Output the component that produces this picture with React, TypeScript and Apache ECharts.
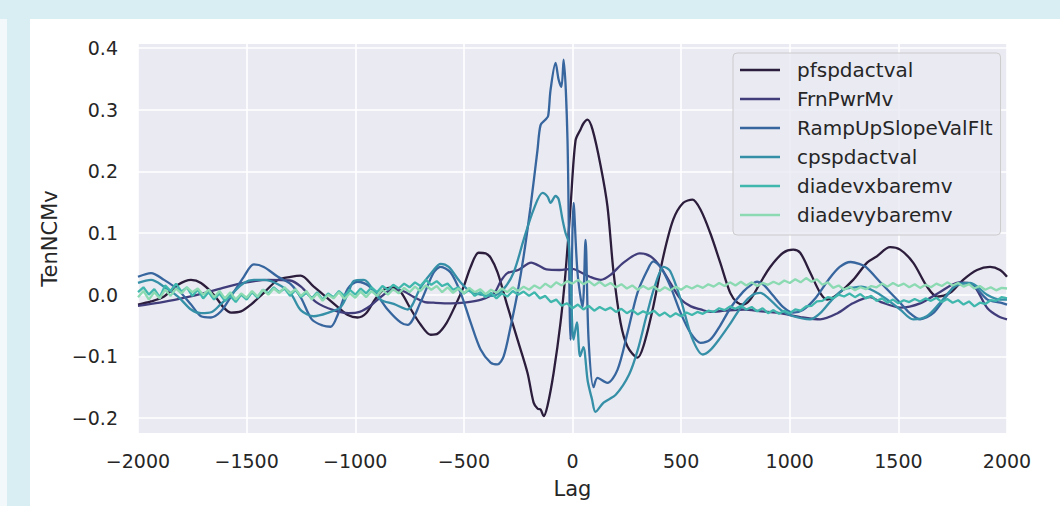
import React, { useEffect, useRef } from "react";
import * as echarts from "echarts";

const seriesNames = ["pfspdactval", "FrnPwrMv", "RampUpSlopeValFlt", "cpspdactval", "diadevxbaremv", "diadevybaremv"];
const seriesColors = ["#2b1d3b", "#413d7b", "#37659e", "#348fa7", "#40b7ad", "#8bdab2"];
const yTickValues = [-0.2, -0.1, 0.0, 0.1, 0.2, 0.3, 0.4];

const pfLag = [-2000, -1940, -1880, -1816, -1756, -1710, -1651, -1605, -1572, -1526, -1480, -1421, -1356, -1297, -1251, -1191, -1130, -1080, -1034, -990, -950, -910, -870, -830, -790, -750, -700, -653, -620, -580, -540, -501, -469, -432, -400, -377, -345, -299, -253, -207, -179, -160, -147, -133, -115, -87, -55, -32, -9, 14, 37, 51, 69, 92, 129, 161, 189, 221, 253, 299, 326, 372, 418, 464, 510, 552, 589, 634, 680, 726, 759, 786, 818, 864, 910, 970, 1016, 1048, 1094, 1140, 1172, 1218, 1292, 1356, 1400, 1462, 1508, 1568, 1632, 1678, 1738, 1798, 1862, 1922, 1968, 2000];
const pfVal = [-0.016, -0.011, -0.003, 0.016, 0.024, 0.019, 0.0, -0.021, -0.029, -0.027, -0.016, 0.003, 0.024, 0.029, 0.031, 0.013, -0.005, -0.02, -0.033, -0.037, -0.03, -0.008, 0.008, 0.012, 0.004, -0.02, -0.048, -0.065, -0.063, -0.046, -0.018, 0.013, 0.045, 0.068, 0.067, 0.06, 0.036, -0.019, -0.073, -0.127, -0.175, -0.185, -0.186, -0.197, -0.18, -0.127, -0.045, 0.036, 0.143, 0.25, 0.268, 0.278, 0.284, 0.268, 0.21, 0.143, 0.036, -0.045, -0.084, -0.102, -0.084, -0.019, 0.062, 0.122, 0.149, 0.154, 0.138, 0.1, 0.052, 0.003, -0.013, -0.016, -0.008, 0.019, 0.045, 0.068, 0.073, 0.068, 0.036, 0.003, -0.008, 0.0, 0.024, 0.052, 0.062, 0.077, 0.073, 0.052, 0.013, -0.003, 0.003, 0.024, 0.04, 0.045, 0.04, 0.029];

const frnLag = [-2000, -1900, -1800, -1700, -1600, -1500, -1400, -1300, -1250, -1180, -1100, -1030, -980, -930, -880, -830, -780, -730, -680, -640, -560, -500, -420, -360, -330, -300, -250, -190, -160, -120, -60, 0, 40, 80, 130, 175, 235, 310, 360, 405, 450, 500, 545, 590, 635, 700, 790, 870, 940, 1000, 1060, 1140, 1220, 1290, 1370, 1420, 1510, 1600, 1690, 1780, 1840, 1910, 1960, 2000];
const frnVal = [-0.018, -0.013, -0.006, 0.002, 0.012, 0.02, 0.024, 0.023, 0.013, -0.012, -0.025, -0.03, -0.028, -0.018, -0.003, 0.008, 0.006, -0.004, -0.012, -0.013, -0.014, -0.013, -0.008, 0.003, 0.022, 0.035, 0.04, 0.052, 0.048, 0.041, 0.04, 0.042, 0.036, 0.029, 0.024, 0.032, 0.052, 0.067, 0.062, 0.045, 0.019, -0.008, -0.019, -0.024, -0.028, -0.026, -0.024, -0.027, -0.029, -0.033, -0.037, -0.04, -0.03, -0.014, -0.004, -0.012, -0.021, -0.014, 0.004, 0.02, 0.017, -0.022, -0.035, -0.04];

const rampLag = [-2000, -1940, -1880, -1816, -1756, -1710, -1664, -1618, -1572, -1513, -1467, -1421, -1356, -1297, -1250, -1200, -1150, -1113, -1080, -1034, -989, -940, -900, -851, -791, -759, -699, -639, -607, -561, -515, -469, -423, -377, -345, -317, -285, -253, -225, -193, -161, -147, -124, -112, -101, -78, -64, -51, -41, -23, -9, 5, 23, 46, 60, 74, 97, 115, 160, 207, 253, 299, 345, 372, 405, 451, 497, 543, 589, 634, 680, 730, 786, 830, 850, 880, 920, 970, 1016, 1060, 1120, 1180, 1230, 1280, 1320, 1350, 1420, 1508, 1550, 1600, 1660, 1720, 1780, 1840, 1910, 1970, 2000];
const rampVal = [0.029, 0.035, 0.024, 0.008, -0.016, -0.035, -0.037, -0.027, -0.003, 0.029, 0.049, 0.045, 0.029, 0.017, -0.005, -0.04, -0.05, -0.052, -0.032, 0.01, 0.021, 0.015, 0.0, -0.024, -0.045, -0.049, -0.012, 0.036, 0.045, 0.036, 0.003, -0.045, -0.089, -0.11, -0.113, -0.1, -0.052, 0.003, 0.062, 0.143, 0.235, 0.275, 0.284, 0.29, 0.332, 0.376, 0.349, 0.337, 0.381, 0.25, -0.073, 0.149, 0.036, -0.02, 0.089, -0.073, -0.15, -0.135, -0.143, -0.122, -0.062, 0.003, 0.04, 0.054, 0.045, 0.013, -0.029, -0.062, -0.078, -0.073, -0.05, -0.02, 0.005, 0.018, 0.021, 0.016, 0.0, -0.02, -0.029, -0.025, -0.005, 0.025, 0.045, 0.053, 0.05, 0.045, 0.019, -0.013, -0.029, -0.04, -0.03, -0.003, 0.019, 0.016, -0.008, -0.013, -0.016];

const cpLag = [-2000, -1940, -1880, -1816, -1756, -1710, -1660, -1618, -1572, -1513, -1467, -1421, -1356, -1297, -1251, -1191, -1130, -1067, -1030, -1007, -960, -943, -883, -823, -759, -699, -639, -607, -570, -520, -470, -420, -370, -320, -271, -225, -179, -138, -115, -101, -78, -64, -46, -32, -18, -9, 5, 20, 35, 50, 70, 90, 106, 143, 200, 260, 300, 340, 380, 420, 450, 500, 550, 600, 634, 680, 730, 786, 830, 864, 900, 960, 1016, 1094, 1140, 1190, 1246, 1300, 1330, 1416, 1508, 1568, 1630, 1692, 1760, 1830, 1908, 1968, 2000];
const cpVal = [0.019, 0.024, 0.013, -0.003, -0.024, -0.03, -0.028, -0.015, 0.0, 0.019, 0.024, 0.024, 0.017, 0.002, -0.025, -0.035, -0.03, -0.02, 0.005, 0.022, 0.024, 0.02, -0.008, -0.015, -0.024, 0.012, 0.04, 0.05, 0.045, 0.022, 0.005, 0.0, -0.002, 0.008, 0.036, 0.089, 0.138, 0.165, 0.159, 0.149, 0.16, 0.155, 0.122, 0.1, 0.085, 0.03, -0.073, -0.045, -0.1, -0.085, -0.14, -0.17, -0.19, -0.175, -0.162, -0.13, -0.09, -0.035, 0.015, 0.045, 0.038, -0.01, -0.07, -0.097, -0.09, -0.07, -0.045, -0.015, 0.0, 0.003, -0.005, -0.025, -0.035, -0.04, -0.03, -0.01, 0.008, 0.012, 0.013, 0.0, -0.024, -0.04, -0.035, -0.013, 0.013, 0.019, 0.0, -0.008, -0.008];

const noiseLag = [
  -2000, -1975, -1950, -1925, -1900, -1875, -1850, -1825,
  -1800, -1775, -1750, -1725, -1700, -1675, -1650, -1625,
  -1600, -1575, -1550, -1525, -1500, -1475, -1450, -1425,
  -1400, -1375, -1350, -1325, -1300, -1275, -1250, -1225,
  -1200, -1175, -1150, -1125, -1100, -1075, -1050, -1025,
  -1000, -975, -950, -925, -900, -875, -850, -825,
  -800, -775, -750, -725, -700, -675, -650, -625,
  -600, -575, -550, -525, -500, -475, -450, -425,
  -400, -375, -350, -325, -300, -275, -250, -225,
  -200, -175, -150, -125, -100, -75, -50, -25,
  0, 25, 50, 75, 100, 125, 150, 175,
  200, 225, 250, 275, 300, 325, 350, 375,
  400, 425, 450, 475, 500, 525, 550, 575,
  600, 625, 650, 675, 700, 725, 750, 775,
  800, 825, 850, 875, 900, 925, 950, 975,
  1000, 1025, 1050, 1075, 1100, 1125, 1150, 1175,
  1200, 1225, 1250, 1275, 1300, 1325, 1350, 1375,
  1400, 1425, 1450, 1475, 1500, 1525, 1550, 1575,
  1600, 1625, 1650, 1675, 1700, 1725, 1750, 1775,
  1800, 1825, 1850, 1875, 1900, 1925, 1950, 1975,
  2000,
];

const devxVal = [
  0.004, 0.012, 0.0, 0.009, -0.004, 0.015, 0.006, 0.018,
  0.005, 0.012, -0.002, 0.008, -0.006, 0.004, -0.008, 0.002,
  -0.01, -0.002, -0.012, 0.0, -0.008, 0.004, -0.005, 0.008,
  0.002, 0.012, 0.004, 0.01, -0.002, 0.008, -0.004, 0.003,
  -0.006, 0.004, -0.008, 0.002, -0.004, 0.006, -0.002, 0.008,
  0.0, 0.01, 0.002, 0.012, 0.004, 0.014, 0.008, 0.016,
  0.01, 0.018, 0.012, 0.02, 0.014, 0.024, 0.016, 0.022,
  0.014, 0.018, 0.008, 0.012, 0.002, 0.008, -0.002, 0.004,
  -0.004, 0.003, -0.006, 0.002, -0.003, 0.006, 0.0, 0.005,
  -0.002, 0.004, -0.006, -0.002, -0.012, -0.008, -0.018, -0.014,
  -0.022, -0.016, -0.024, -0.018, -0.026, -0.02, -0.025, -0.021,
  -0.028, -0.023, -0.03, -0.025, -0.032, -0.027, -0.031, -0.026,
  -0.034, -0.029, -0.036, -0.03, -0.035, -0.029, -0.033, -0.028,
  -0.031, -0.026, -0.028, -0.022, -0.025, -0.019, -0.023, -0.018,
  -0.024, -0.02, -0.027, -0.022, -0.03, -0.025, -0.031, -0.026,
  -0.03, -0.024, -0.026, -0.019, -0.018, -0.011, -0.01, -0.004,
  -0.006, 0.0, -0.003, 0.002, -0.004, 0.001, -0.006, -0.002,
  -0.01, -0.006, -0.013, -0.008, -0.014, -0.009, -0.012, -0.007,
  -0.011, -0.006, -0.01, -0.005, -0.012, -0.007, -0.013, -0.009,
  -0.016, -0.011, -0.019, -0.013, -0.015, -0.009, -0.01, -0.004,
  -0.006,
];

const devyVal = [
  -0.004, 0.006, -0.008, 0.004, -0.006, 0.008, -0.002, 0.01,
  0.002, 0.012, 0.004, 0.01, 0.0, 0.008, -0.004, 0.006,
  -0.006, 0.004, -0.008, 0.002, -0.005, 0.006, -0.003, 0.008,
  0.0, 0.01, 0.003, 0.012, 0.002, 0.009, -0.002, 0.006,
  -0.008, 0.002, -0.01, 0.0, -0.006, 0.004, -0.007, 0.002,
  -0.005, 0.005, -0.004, 0.006, -0.002, 0.008, 0.0, 0.009,
  0.002, 0.011, 0.004, 0.013, 0.006, 0.015, 0.008, 0.014,
  0.004, 0.012, 0.003, 0.01, 0.002, 0.011, 0.004, 0.009,
  0.001, 0.008, 0.003, 0.01, 0.004, 0.012, 0.006, 0.013,
  0.008, 0.015, 0.01, 0.018, 0.012, 0.02, 0.015, 0.022,
  0.018, 0.024, 0.017, 0.022, 0.015, 0.021, 0.014, 0.019,
  0.012, 0.017, 0.01, 0.015, 0.008, 0.014, 0.009, 0.013,
  0.006, 0.012, 0.007, 0.013, 0.008, 0.014, 0.01, 0.015,
  0.011, 0.017, 0.013, 0.019, 0.014, 0.02, 0.015, 0.021,
  0.015, 0.02, 0.014, 0.019, 0.016, 0.021, 0.017, 0.023,
  0.019, 0.025, 0.02, 0.027, 0.021, 0.025, 0.016, 0.02,
  0.011, 0.015, 0.008, 0.013, 0.007, 0.012, 0.009, 0.014,
  0.012, 0.018, 0.013, 0.019, 0.014, 0.018, 0.012, 0.017,
  0.011, 0.016, 0.012, 0.018, 0.014, 0.02, 0.015, 0.019,
  0.013, 0.017, 0.01, 0.014, 0.008, 0.012, 0.007, 0.011,
  0.01,
];

const zip = (lags: number[], vals: number[]) => lags.map((l, i) => [l, vals[i]]);
const FONT = "DejaVu Sans";
const TEXT = "#262626";
const minus = (s: string) => s.replace("-", "\u2212");

export default function App() {
  const ref = useRef<HTMLDivElement>(null);
  useEffect(() => {
    if (!ref.current) return;
    const chart = echarts.init(ref.current, null, { renderer: "svg" });
    const data = [
      zip(pfLag, pfVal),
      zip(frnLag, frnVal),
      zip(rampLag, rampVal),
      zip(cpLag, cpVal),
      zip(noiseLag, devxVal),
      zip(noiseLag, devyVal),
    ];
    chart.setOption({
      animation: false,
      grid: {
        left: 138,
        right: 53,
        top: 44,
        bottom: 73,
        show: true,
        backgroundColor: "#eaeaf2",
        borderWidth: 0,
      },
      xAxis: {
        type: "value",
        min: -2000,
        max: 2000,
        interval: 500,
        name: "Lag",
        nameLocation: "middle",
        nameGap: 45,
        nameTextStyle: { fontFamily: FONT, fontSize: 21, color: TEXT },
        axisLine: { show: false },
        axisTick: { show: false },
        axisLabel: {
          fontFamily: FONT,
          fontSize: 19,
          color: TEXT,
          margin: 18,
          formatter: (v: number) => minus(String(v)),
        },
        splitLine: { show: true, lineStyle: { color: "#ffffff", width: 1.6 } },
      },
      yAxis: {
        type: "value",
        min: -0.2243,
        max: 0.4065,
        name: "TenNCMv",
        nameLocation: "middle",
        nameGap: 78,
        nameRotate: 90,
        nameTextStyle: { fontFamily: FONT, fontSize: 21, color: TEXT },
        axisLine: { show: false },
        axisTick: { show: false, customValues: yTickValues },
        axisLabel: {
          customValues: yTickValues,
          fontFamily: FONT,
          fontSize: 19,
          color: TEXT,
          margin: 20,
          formatter: (v: number) => minus(v.toFixed(1)),
        },
        splitLine: { show: true, lineStyle: { color: "#ffffff", width: 1.6 } },
      },
      legend: {
        show: true,
        orient: "vertical",
        left: 733,
        top: 53,
        padding: [7, 8, 10, 7],
        icon: "rect",
        itemWidth: 40,
        itemHeight: 2.4,
        itemGap: 9,
        backgroundColor: "rgba(234,234,242,0.8)",
        borderColor: "#cccccc",
        borderWidth: 1,
        borderRadius: 4,
        textStyle: { fontFamily: FONT, fontSize: 20, lineHeight: 20, color: TEXT, padding: [0, 0, 0, 12] },
        data: seriesNames,
      },
      series: seriesNames.map((name, i) => ({
        name,
        type: "line",
        data: data[i],
        symbol: "none",
        showSymbol: false,
        smooth: i < 4 ? 0.3 : false,
        clip: true,
        lineStyle: { color: seriesColors[i], width: 2.3 },
        itemStyle: { color: seriesColors[i] },
      })),
    });
    return () => chart.dispose();
  }, []);
  return (
    <div style={{ position: "fixed", left: 0, top: 0, width: 1060, height: 506, background: "#d9eef2", overflow: "hidden" }}>
      <div style={{ position: "absolute", left: 0, top: 19, width: 7, height: 487, background: "#f3f9fa" }} />
      <div style={{ position: "absolute", left: 30, top: 19, width: 1030, height: 487, background: "#ffffff" }} />
      <div ref={ref} style={{ position: "absolute", left: 0, top: 0, width: 1060, height: 506 }} />
    </div>
  );
}
